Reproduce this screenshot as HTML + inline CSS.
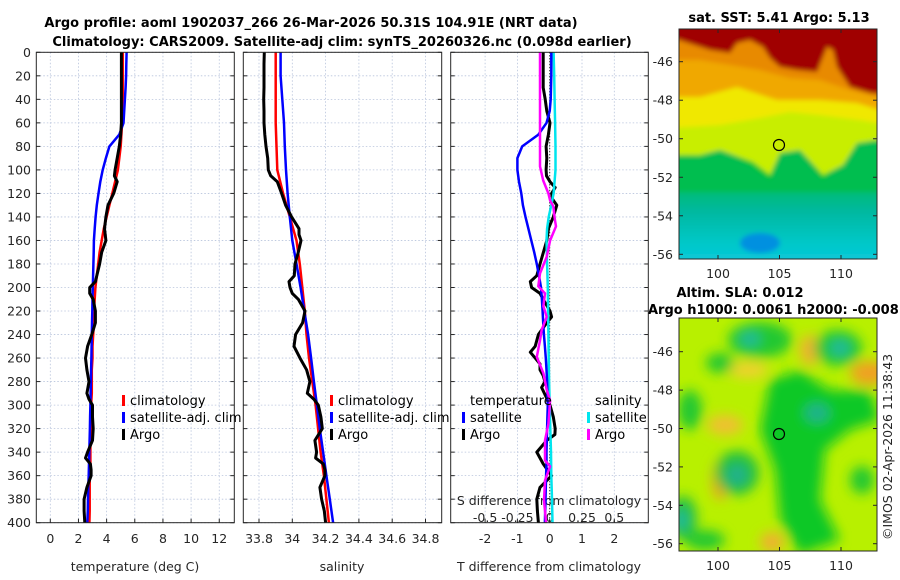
<!DOCTYPE html>
<html><head><meta charset="utf-8"><style>
html,body{margin:0;padding:0;background:#fff;}
svg{display:block;font-family:"DejaVu Sans","Liberation Sans",sans-serif;}
.tk{font-size:12.5px;fill:#262626;}
.ttl{font-size:13px;font-weight:bold;fill:#000;}
.lg{font-size:13px;fill:#000;}
</style></head><body>
<svg id="fig" width="900" height="580" viewBox="0 0 900 580">
<defs>
<clipPath id="c1"><rect x="36" y="52" width="198" height="471"/></clipPath>
<clipPath id="c2"><rect x="243" y="52" width="198" height="471"/></clipPath>
<clipPath id="c3"><rect x="451" y="52" width="197" height="471"/></clipPath>
<clipPath id="cm1"><rect x="679" y="29" width="198" height="230"/></clipPath>
<clipPath id="cm2"><rect x="679" y="318" width="198" height="233"/></clipPath>
<filter id="bl" x="-20%" y="-20%" width="140%" height="140%"><feGaussianBlur stdDeviation="6"/></filter>
<filter id="bl2" x="-20%" y="-20%" width="140%" height="140%"><feGaussianBlur stdDeviation="2.5"/></filter>
<linearGradient id="sstlow" x1="0" y1="0" x2="0" y2="1">
<stop offset="0" stop-color="#00be60"/><stop offset="0.35" stop-color="#00b8a0"/><stop offset="0.7" stop-color="#00c8c8"/><stop offset="1" stop-color="#10c8e0"/></linearGradient>
</defs>
<text class="ttl" x="311" y="27" text-anchor="middle">Argo profile: aoml 1902037_266 26-Mar-2026 50.31S 104.91E (NRT data)</text>
<text class="ttl" x="342" y="46" text-anchor="middle">Climatology: CARS2009. Satellite-adj clim: synTS_20260326.nc (0.098d earlier)</text>

<g>
<text class="ttl" x="779" y="22" text-anchor="middle">sat. SST: 5.41 Argo: 5.13</text>
<g clip-path="url(#cm1)" filter="url(#bl2)">
<rect x="670" y="180" width="220" height="90" fill="url(#sstlow)"/>
<rect x="670" y="20" width="220" height="172" fill="#00be50"/>
<path d="M670,20 H890 V140 L877,140 L857,143 L843,160 L823,180 L803,150 L780,150 L770,180 L753,167 L720,147 L700,157 L670,157 Z" fill="#00c830"/>
<path d="M670,20 H890 V140 L877,140 L857,143 L843,165 L823,175 L800,150 L780,153 L770,175 L753,162 L720,150 L700,155 L670,155 Z" fill="#c8ee00"/>
<path d="M670,20 H890 V125 L860,120 L820,115 L790,112 L760,118 L720,125 L670,128 Z" fill="#f0e800"/>
<path d="M670,20 H890 V113 L857,103 L820,100 L777,100 L737,87 L700,97 L670,97 Z" fill="#f0a800"/>
<path d="M670,20 H890 V100 L850,90 L820,80 L790,78 L760,70 L730,65 L700,60 L670,60 Z" fill="#e88a00"/>
<path d="M670,20 H890 V95 L870,93 L850,87 L837,67 L833,50 L827,47 L817,72 L797,70 L780,67 L770,58 L763,47 L750,40 L737,43 L730,53 L710,50 L679,40 L670,40 Z" fill="#a00000"/>
<ellipse cx="760" cy="243" rx="20" ry="10" fill="#0090e0"/>
</g>
<rect x="679" y="29" width="198" height="230" fill="none" stroke="#262626" stroke-width="1"/>
<circle cx="779" cy="145" r="5.5" fill="none" stroke="#000" stroke-width="1.2"/>
</g>

<g>
<text class="ttl" x="740" y="297" text-anchor="middle">Altim. SLA: 0.012</text>
<text class="ttl" x="648" y="314">Argo h1000: 0.0061 h2000: -0.008</text>
<g clip-path="url(#cm2)">
<rect x="679" y="318" width="198" height="233" fill="#b8f000"/>
<g filter="url(#bl)">
<ellipse cx="720" cy="480" rx="8" ry="20" fill="#f0a020"/>
<ellipse cx="810" cy="350" rx="10" ry="15" fill="#f0b030"/>
<ellipse cx="870" cy="373" rx="20" ry="12" fill="#f0a020"/>
<ellipse cx="725" cy="425" rx="18" ry="10" fill="#f0c030"/>
<ellipse cx="772" cy="542" rx="12" ry="10" fill="#f0b030"/>
<ellipse cx="748" cy="370" rx="20" ry="8" fill="#f0d030"/>
<ellipse cx="760" cy="340" rx="32" ry="18" fill="#20c830"/>
<ellipse cx="838" cy="348" rx="24" ry="18" fill="#20c830"/>
<path d="M770,380 L800,370 L830,390 L870,390 L880,420 L850,430 L825,450 L820,500 L840,540 L800,555 L780,520 L775,470 L760,430 Z" fill="#10c828"/>
<ellipse cx="737" cy="473" rx="22" ry="22" fill="#20c040"/>
<ellipse cx="690" cy="410" rx="12" ry="20" fill="#20c830"/>
<ellipse cx="683" cy="518" rx="14" ry="22" fill="#20c040"/>
<ellipse cx="720" cy="363" rx="14" ry="10" fill="#20c830"/>
<ellipse cx="862" cy="480" rx="12" ry="14" fill="#20c830"/>
<ellipse cx="705" cy="540" rx="20" ry="10" fill="#20c830"/>
<ellipse cx="750" cy="339" rx="10" ry="7" fill="#20b8a0"/>
<ellipse cx="840" cy="348" rx="10" ry="8" fill="#20b8a0"/>
<ellipse cx="817" cy="413" rx="12" ry="9" fill="#20b090"/>
<ellipse cx="737" cy="475" rx="10" ry="10" fill="#20b090"/>
<ellipse cx="681" cy="520" rx="7" ry="10" fill="#20b8a0"/>
</g>
</g>
<rect x="679" y="318" width="198" height="233" fill="none" stroke="#262626" stroke-width="1"/>
<circle cx="779" cy="434" r="5.5" fill="none" stroke="#000" stroke-width="1.2"/>
</g>
<text class="tk" transform="translate(892,540) rotate(-90)">©IMOS 02-Apr-2026 11:38:43</text>
<g id="dyn"></g>
</svg>
<script>
const depths = [0,10,20,30,40,50,60,70,80,90,100,110,120,130,140,150,160,170,180,190,200,210,220,230,240,250,260,270,280,290,300,310,320,330,340,350,360,370,380,390,400];
const depths20 = [0,20,40,60,80,100,120,140,160,180,200,220,240,260,280,300,320,340,360,380,400];
const tempClim = [5.15,5.15,5.15,5.15,5.15,5.12,5.1,5.05,5.0,4.9,4.8,4.6,4.4,4.2,4.0,3.8,3.65,3.5,3.4,3.3,3.2,3.15,3.1,3.1,3.05,3.0,3.0,2.95,2.95,2.95,2.9,2.9,2.9,2.85,2.85,2.85,2.8,2.8,2.8,2.8,2.78];
const tempSat = [5.42,5.4,5.38,5.35,5.3,5.25,5.2,4.9,4.2,3.95,3.72,3.55,3.42,3.3,3.22,3.15,3.1,3.08,3.06,3.04,3.02,3.0,2.98,2.96,2.95,2.93,2.92,2.9,2.88,2.86,2.85,2.83,2.81,2.79,2.77,2.75,2.73,2.7,2.68,2.66,2.63];
const argoDepth = [0,10,20,30,40,50,60,70,80,90,100,105,110,120,130,140,150,155,160,170,180,190,195,200,205,210,220,230,240,250,260,270,280,290,295,300,310,320,330,340,345,350,355,360,370,380,390,400];
const tempArgo = [5.05,5.05,5.05,5.05,5.05,5.05,5.05,5.0,4.9,4.75,4.6,4.55,4.75,4.5,4.1,3.95,3.85,3.9,3.95,3.65,3.5,3.3,3.2,2.8,2.8,3.05,3.2,3.2,2.95,2.65,2.5,2.6,2.75,2.6,2.75,3.0,3.0,3.05,3.0,2.65,2.5,2.85,2.9,2.9,2.6,2.4,2.4,2.45];
const salClim = [33.9,33.9,33.9,33.9,33.905,33.91,33.945,33.985,34.025,34.045,34.06,34.075,34.085,34.1,34.12,34.14,34.155,34.17,34.19,34.205,34.22];
const salSat = [33.93,33.93,33.94,33.95,33.955,33.962,33.972,33.985,34.0,34.025,34.05,34.072,34.095,34.113,34.13,34.148,34.165,34.185,34.205,34.225,34.245];
const salArgo = [33.832,33.83,33.83,33.83,33.828,33.83,33.83,33.835,33.842,33.852,33.856,33.87,33.91,33.936,33.96,33.996,34.04,34.04,34.052,34.036,34.016,34.012,33.98,33.986,34.0,34.036,34.076,34.062,34.02,34.01,34.046,34.086,34.106,34.09,34.13,34.156,34.172,34.18,34.136,34.146,34.14,34.186,34.196,34.196,34.166,34.176,34.192,34.2];
const dTSat = [0.05,0.05,0.05,0.04,0.03,0.0,-0.1,-0.35,-0.85,-1.0,-1.0,-0.95,-0.88,-0.83,-0.75,-0.66,-0.57,-0.48,-0.4,-0.33,-0.27,-0.24,-0.22,-0.2,-0.18,-0.15,-0.12,-0.1,-0.08,-0.07,-0.06,-0.07,-0.08,-0.09,-0.1,-0.1,-0.11,-0.12,-0.13,-0.14,-0.15];
const dTArgo = [-0.2,-0.2,-0.2,-0.2,-0.14,-0.09,0.01,-0.04,-0.11,-0.09,-0.11,-0.1,0.01,0.17,0.06,0.09,0.22,0.11,-0.04,-0.09,-0.3,-0.4,-0.6,-0.56,-0.3,-0.2,0.01,0.06,-0.09,-0.35,-0.45,-0.6,-0.45,-0.3,-0.3,-0.2,-0.15,-0.25,0.01,0.11,0.17,0.16,-0.09,-0.4,-0.2,0.06,-0.3,-0.4,-0.38,-0.35];
const dTArgoDepth = [0,10,20,30,40,50,60,70,80,90,100,105,110,115,120,125,130,140,150,160,180,190,195,200,205,210,220,225,230,240,250,255,260,265,270,275,280,285,300,310,320,325,330,340,350,360,370,380,390,400];
const dSSatDepth = [0,20,40,60,80,100,120,130,140,150,160,180,200,220,240,260,280,300,320,340,360,380,400];
const dSSat = [0.03,0.035,0.038,0.042,0.045,0.045,0.03,0.012,-0.008,-0.02,-0.025,-0.02,-0.015,-0.012,-0.01,-0.008,-0.005,0.0,0.005,0.01,0.012,0.018,0.022];
const dSArgoDepth = [0,40,80,97,109,120,126,131,143,148,160,174,188,199,205,216,225,236,245,259,273,287,296,316,330,347,352,364,381,400];
const dSArgo = [-0.075,-0.075,-0.075,-0.075,-0.05,-0.01,0.003,0.028,0.041,0.049,0.003,-0.023,-0.075,-0.088,-0.036,-0.049,-0.023,-0.062,-0.075,-0.10,-0.049,-0.023,0.003,-0.010,-0.036,-0.036,0.003,-0.036,-0.044,-0.028];
const depthTicks = [0,20,40,60,80,100,120,140,160,180,200,220,240,260,280,300,320,340,360,380,400];
const tTicks = [0,2,4,6,8,10,12];
const sTicks = [33.8,34,34.2,34.4,34.6,34.8];
const dtTicks = [-2,-1,0,1,2];
const dsTickLabels = ["-0.5","-0.25","0","0.25","0.5"];
const dsTicks = [-0.5,-0.25,0,0.25,0.5];
const latTicks = [-46,-48,-50,-52,-54,-56];
const lonTicks = [100,105,110];

const NS='http://www.w3.org/2000/svg';
const root=document.getElementById('dyn');
const top0=52.3, bot0=522.7;
const yD=d=>top0+(bot0-top0)*d/400;
const x1=t=>50.3+(t)*14.08;
const x2=s=>259+(s-33.8)*166.5;
const x3=T=>549.7+T*32.3;
const x3s=S=>549.7+S*4*32.3;
const lon1=l=>718+(l-100)*12.3;
const latA=l=>61.7+(-46-l)*19.26;
const latB=l=>351.7+(-46-l)*19.2;
function mk(tag,at,parent){const e=document.createElementNS(NS,tag);for(const k in at)e.setAttribute(k,at[k]);(parent||root).appendChild(e);return e;}
function txt(s,x,y,cls,anchor,parent){const e=mk('text',{x:x,y:y,class:cls,'text-anchor':anchor||'middle'},parent);e.textContent=s;return e;}
const panels=[{x:36.3,w:198,c:'c1',name:'temperature-panel'},{x:243.3,w:198.4,c:'c2',name:'salinity-panel'},{x:450.7,w:197.6,c:'c3',name:'difference-panel'}];
const gs=[];
panels.forEach((p,i)=>{
  const g=mk('g',{});
  
  
  gs.push(g);
  depthTicks.forEach(d=>{
    const l=mk('line',{x1:p.x,x2:p.x+p.w,y1:yD(d),y2:yD(d),stroke:'#b8c4dc','stroke-width':0.8,'stroke-dasharray':'1.5,2'},g);
    
    
    mk('line',{x1:p.x,x2:p.x+4,y1:yD(d),y2:yD(d),stroke:'#262626','stroke-width':1},g);
    mk('line',{x1:p.x+p.w-4,x2:p.x+p.w,y1:yD(d),y2:yD(d),stroke:'#262626','stroke-width':1},g);
  });
});
depthTicks.forEach(d=>{const t=txt(String(d),31,yD(d)+4.5,'tk','end',gs[0]);});
tTicks.forEach(v=>{
  mk('line',{x1:x1(v),x2:x1(v),y1:top0,y2:bot0,stroke:'#b8c4dc','stroke-width':0.8,'stroke-dasharray':'1.5,2'},gs[0]);
  mk('line',{x1:x1(v),x2:x1(v),y1:bot0,y2:bot0-4,stroke:'#262626'},gs[0]);
  const t=txt(String(v),x1(v),543,'tk','middle',gs[0]);
});
{const t=txt('temperature (deg C)',135,571,'tk','middle',gs[0]);}
sTicks.forEach(v=>{
  mk('line',{x1:x2(v),x2:x2(v),y1:top0,y2:bot0,stroke:'#b8c4dc','stroke-width':0.8,'stroke-dasharray':'1.5,2'},gs[1]);
  mk('line',{x1:x2(v),x2:x2(v),y1:bot0,y2:bot0-4,stroke:'#262626'},gs[1]);
  const t=txt(String(v),x2(v),543,'tk','middle',gs[1]);
});
{const t=txt('salinity',342,571,'tk','middle',gs[1]);}
dtTicks.forEach(v=>{
  mk('line',{x1:x3(v),x2:x3(v),y1:top0,y2:bot0,stroke:'#b8c4dc','stroke-width':0.8,'stroke-dasharray':'1.5,2'},gs[2]);
  mk('line',{x1:x3(v),x2:x3(v),y1:bot0,y2:bot0-4,stroke:'#262626'},gs[2]);
  const t=txt(String(v),x3(v),543,'tk','middle',gs[2]);
});
mk('line',{x1:x3(0),x2:x3(0),y1:top0,y2:bot0,stroke:'#000','stroke-width':1,'stroke-dasharray':'1,2'},gs[2]);
{const t=txt('T difference from climatology',549,571,'tk','middle',gs[2]);}
{const t=txt('S difference from climatology',549,505,'tk','middle',gs[2]);}
dsTicks.forEach((v,i)=>{const t=txt(dsTickLabels[i],x3s(v),522,'tk','middle',gs[2]);});

function line(xs,ds,fx,color,w,g,clip,name){
  const pts=xs.map((v,i)=>fx(v).toFixed(1)+','+yD(ds[i]).toFixed(1)).join(' ');
  const e=mk('polyline',{points:pts,fill:'none',stroke:color,'stroke-width':w,'stroke-linejoin':'round','clip-path':'url(#'+clip+')'},g);
  
  
}
line(tempClim,depths,x1,'#ff0000',2.5,gs[0],'c1','temp-climatology-line');
line(tempSat,depths,x1,'#0000ff',2.5,gs[0],'c1','temp-satellite-line');
line(tempArgo,argoDepth,x1,'#000000',3,gs[0],'c1','temp-argo-line');
line(salClim,depths20,x2,'#ff0000',2.5,gs[1],'c2','sal-climatology-line');
line(salSat,depths20,x2,'#0000ff',2.5,gs[1],'c2','sal-satellite-line');
line(salArgo,argoDepth,x2,'#000000',3,gs[1],'c2','sal-argo-line');
line(dTArgo,dTArgoDepth,x3,'#000000',3,gs[2],'c3','t-diff-argo-line');
line(dSSat,dSSatDepth,x3s,'#00e5ee',2.5,gs[2],'c3','s-diff-satellite-line');
line(dTSat,depths,x3,'#0000ff',2.5,gs[2],'c3','t-diff-satellite-line');
line(dSArgo,dSArgoDepth,x3s,'#ff00ff',2.5,gs[2],'c3','s-diff-argo-line');

panels.forEach((p,i)=>{mk('rect',{x:p.x,y:top0,width:p.w,height:bot0-top0,fill:'none',stroke:'#262626','stroke-width':1},gs[i]);});

function legend(g,x,y,color,label){
  const r=mk('rect',{x:x,y:y-10,width:3,height:11,fill:color},g);
  
  
  const t=txt(label,x+8,y,'lg','start',g);
  
  
}
legend(gs[0],122,405,'#ff0000','climatology');
legend(gs[0],122,422,'#0000ff','satellite-adj. clim');
legend(gs[0],122,439,'#000000','Argo');
legend(gs[1],330,405,'#ff0000','climatology');
legend(gs[1],330,422,'#0000ff','satellite-adj. clim');
legend(gs[1],330,439,'#000000','Argo');
{const t=txt('temperature',470,405,'lg','start',gs[2]);}
legend(gs[2],462,422,'#0000ff','satellite');
legend(gs[2],462,439,'#000000','Argo');
{const t=txt('salinity',595,405,'lg','start',gs[2]);}
legend(gs[2],587,422,'#00e5ee','satellite');
legend(gs[2],587,439,'#ff00ff','Argo');

const mg=mk('g',{});


latTicks.forEach(l=>{
  [latA(l),latB(l)].forEach(y=>{
    mk('line',{x1:679,x2:683,y1:y,y2:y,stroke:'#262626'},mg);
    mk('line',{x1:873,x2:877,y1:y,y2:y,stroke:'#262626'},mg);
    const t=txt(String(l),673,y+4.5,'tk','end',mg);
    
    
  });
});
lonTicks.forEach(l=>{
  [[29,259],[318,551]].forEach(([a,b])=>{
    mk('line',{x1:lon1(l),x2:lon1(l),y1:a,y2:a+4,stroke:'#262626'},mg);
    mk('line',{x1:lon1(l),x2:lon1(l),y1:b,y2:b-4,stroke:'#262626'},mg);
    const t=txt(String(l),lon1(l),b+19,'tk','middle',mg);
    
    
  });
});
</script>
</body></html>
